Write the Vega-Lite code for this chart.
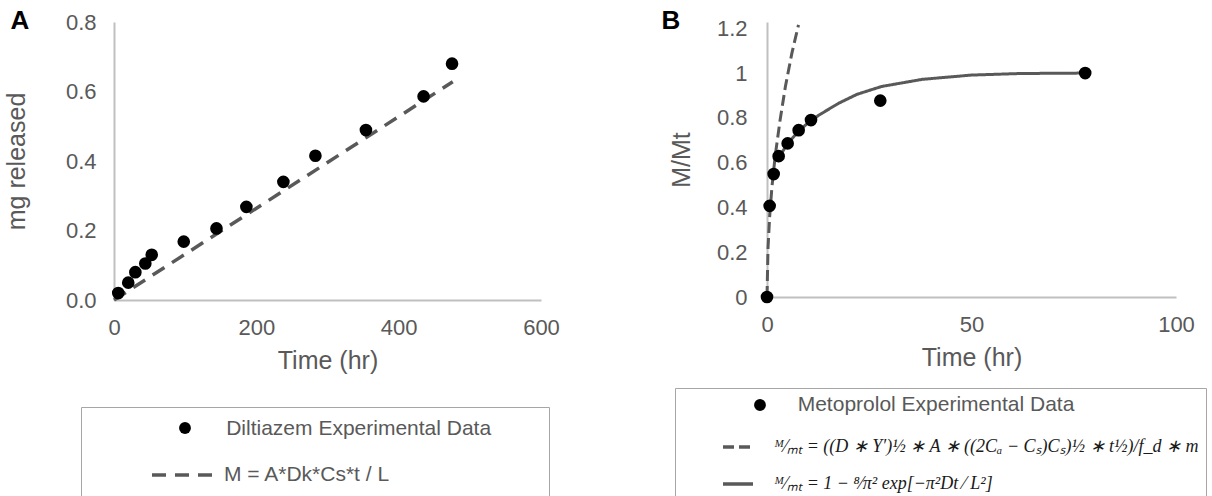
{
  "$schema": "https://vega.github.io/schema/vega-lite/v6.json",
  "padding": {"left": 4, "top": 8, "right": 0, "bottom": 0},
  "spacing": 101,
  "resolve": {"scale": {"strokeDash": "independent", "shape": "independent"}, "legend": {"strokeDash": "independent", "shape": "independent"}},
  "config": {
    "font": "Liberation Sans",
    "view": {"stroke": null},
    "axis": {
      "labelFont": "Liberation Sans", "labelFontSize": 22, "labelColor": "#595959",
      "titleFont": "Liberation Sans", "titleFontSize": 25, "titleFontWeight": "normal", "titleColor": "#595959",
      "domainColor": "#c0c0c0", "domainWidth": 2, "ticks": false, "grid": false, "labelFlush": false, "labelOverlap": false
    },
    "title": {"fontSize": 26, "fontWeight": "bold", "color": "#000000", "anchor": "start", "frame": "bounds", "font": "Liberation Sans"}
  },
  "hconcat": [
    {
      "title": {"text": "A", "offset": -23, "dx": 6},
      "width": 427,
      "height": 278,
      "data": {"values": [
        {"series": "Diltiazem Experimental Data", "t": 6, "m": 0.02},
        {"series": "Diltiazem Experimental Data", "t": 20, "m": 0.05},
        {"series": "Diltiazem Experimental Data", "t": 30, "m": 0.08},
        {"series": "Diltiazem Experimental Data", "t": 44, "m": 0.105},
        {"series": "Diltiazem Experimental Data", "t": 53, "m": 0.13},
        {"series": "Diltiazem Experimental Data", "t": 98, "m": 0.168},
        {"series": "Diltiazem Experimental Data", "t": 144, "m": 0.206},
        {"series": "Diltiazem Experimental Data", "t": 186, "m": 0.268},
        {"series": "Diltiazem Experimental Data", "t": 238, "m": 0.34},
        {"series": "Diltiazem Experimental Data", "t": 283, "m": 0.415},
        {"series": "Diltiazem Experimental Data", "t": 354, "m": 0.489},
        {"series": "Diltiazem Experimental Data", "t": 435, "m": 0.586},
        {"series": "Diltiazem Experimental Data", "t": 475, "m": 0.68},
        {"series": "M = A*Dk*Cs*t / L", "t": 0, "m": 0},
        {"series": "M = A*Dk*Cs*t / L", "t": 476, "m": 0.628}
      ]},
      "layer": [
        {
          "transform": [{"filter": "datum.series === 'M = A*Dk*Cs*t / L'"}],
          "mark": {"type": "line", "color": "#595959", "strokeWidth": 3.5},
          "encoding": {
            "x": {"field": "t", "type": "quantitative", "scale": {"domain": [0, 600], "nice": false},
              "axis": {"title": "Time (hr)", "values": [0, 200, 400, 600], "labelPadding": 17, "titlePadding": 10, "labelOverlap": false}},
            "y": {"field": "m", "type": "quantitative", "scale": {"domain": [0, 0.8], "nice": false},
              "axis": {"title": "mg released", "values": [0, 0.1, 0.2, 0.3, 0.4, 0.5, 0.6, 0.7, 0.8], "format": ".1f", "labelPadding": 18, "titlePadding": 36, "labelOverlap": false}},
            "strokeDash": {"field": "series", "type": "nominal", "scale": {"domain": ["M = A*Dk*Cs*t / L"], "range": [[14, 9]]},
              "legend": {
                "orient": "none", "legendX": -33, "legendY": 385,
                "title": "\u200b\u00a0\u00a0\u00a0\u00a0\u00a0\u00a0\u00a0\u00a0\u00a0\u00a0\u00a0\u00a0\u00a0\u00a0\u00a0\u00a0\u00a0\u00a0\u00a0\u00a0\u00a0\u00a0\u00a0Diltiazem Experimental Data\u00a0\u00a0\u00a0\u00a0\u00a0\u00a0\u00a0\u00a0\u200b",
                "titleFontSize": 21, "titleFontWeight": "normal", "titleColor": "#595959", "titleLimit": 2000, "titlePadding": 26,
                "padding": 11, "strokeColor": "#a6a6a6",
                "labelFontSize": 21, "labelColor": "#595959", "labelLimit": 2000,
                "symbolType": "stroke", "symbolSize": 4356, "symbolStrokeWidth": 3.5, "symbolStrokeColor": "#595959",
                "symbolOffset": 58, "labelOffset": 4, "clipHeight": 20
              }}
          }
        },
        {
          "transform": [{"filter": "datum.series === 'Diltiazem Experimental Data'"}],
          "mark": {"type": "point", "filled": true, "color": "#000000", "opacity": 1, "size": 160},
          "encoding": {
            "x": {"field": "t", "type": "quantitative"},
            "y": {"field": "m", "type": "quantitative"},
            "shape": {"field": "series", "type": "nominal", "scale": {"domain": ["Diltiazem Experimental Data"], "range": ["circle"]},
              "legend": {
                "orient": "none", "legendX": 65, "legendY": 400, "title": null, "labelExpr": "''",
                "padding": 0, "symbolSize": 140, "symbolFillColor": "#000000", "symbolStrokeWidth": 0,
                "labelFontSize": 1, "labelOffset": 0
              }}
          }
        }
      ]
    },
    {
      "title": {"text": "B", "offset": -17, "dx": -8},
      "width": 409,
      "height": 275,
      "data": {"values": [
        {"series": "Metoprolol Experimental Data", "t": 0, "f": 0},
        {"series": "Metoprolol Experimental Data", "t": 0.65, "f": 0.407},
        {"series": "Metoprolol Experimental Data", "t": 1.63, "f": 0.549},
        {"series": "Metoprolol Experimental Data", "t": 2.85, "f": 0.629},
        {"series": "Metoprolol Experimental Data", "t": 5.05, "f": 0.686},
        {"series": "Metoprolol Experimental Data", "t": 7.74, "f": 0.745},
        {"series": "Metoprolol Experimental Data", "t": 10.76, "f": 0.79},
        {"series": "Metoprolol Experimental Data", "t": 27.7, "f": 0.877},
        {"series": "Metoprolol Experimental Data", "t": 77.8, "f": 1.0},
        {"series": "ᴹ⁄ₘₜ = ((D ∗ Y′)½ ∗ A ∗ ((2Cₐ − Cₛ)Cₛ)½ ∗ t½)/f_d ∗ m", "t": 0, "f": 0},
        {"series": "ᴹ⁄ₘₜ = ((D ∗ Y′)½ ∗ A ∗ ((2Cₐ − Cₛ)Cₛ)½ ∗ t½)/f_d ∗ m", "t": 0.25, "f": 0.22},
        {"series": "ᴹ⁄ₘₜ = ((D ∗ Y′)½ ∗ A ∗ ((2Cₐ − Cₛ)Cₛ)½ ∗ t½)/f_d ∗ m", "t": 0.65, "f": 0.36},
        {"series": "ᴹ⁄ₘₜ = ((D ∗ Y′)½ ∗ A ∗ ((2Cₐ − Cₛ)Cₛ)½ ∗ t½)/f_d ∗ m", "t": 1.2, "f": 0.49},
        {"series": "ᴹ⁄ₘₜ = ((D ∗ Y′)½ ∗ A ∗ ((2Cₐ − Cₛ)Cₛ)½ ∗ t½)/f_d ∗ m", "t": 2.0, "f": 0.63},
        {"series": "ᴹ⁄ₘₜ = ((D ∗ Y′)½ ∗ A ∗ ((2Cₐ − Cₛ)Cₛ)½ ∗ t½)/f_d ∗ m", "t": 3.2, "f": 0.79},
        {"series": "ᴹ⁄ₘₜ = ((D ∗ Y′)½ ∗ A ∗ ((2Cₐ − Cₛ)Cₛ)½ ∗ t½)/f_d ∗ m", "t": 4.5, "f": 0.94},
        {"series": "ᴹ⁄ₘₜ = ((D ∗ Y′)½ ∗ A ∗ ((2Cₐ − Cₛ)Cₛ)½ ∗ t½)/f_d ∗ m", "t": 6.1, "f": 1.09},
        {"series": "ᴹ⁄ₘₜ = ((D ∗ Y′)½ ∗ A ∗ ((2Cₐ − Cₛ)Cₛ)½ ∗ t½)/f_d ∗ m", "t": 7.7, "f": 1.215},
        {"series": "ᴹ⁄ₘₜ = 1 − ⁸⁄π² exp[−π²Dt ⁄ L²]", "t": 2.5, "f": 0.61},
        {"series": "ᴹ⁄ₘₜ = 1 − ⁸⁄π² exp[−π²Dt ⁄ L²]", "t": 5, "f": 0.685},
        {"series": "ᴹ⁄ₘₜ = 1 − ⁸⁄π² exp[−π²Dt ⁄ L²]", "t": 7.7, "f": 0.74},
        {"series": "ᴹ⁄ₘₜ = 1 − ⁸⁄π² exp[−π²Dt ⁄ L²]", "t": 10.8, "f": 0.79},
        {"series": "ᴹ⁄ₘₜ = 1 − ⁸⁄π² exp[−π²Dt ⁄ L²]", "t": 13.4, "f": 0.82},
        {"series": "ᴹ⁄ₘₜ = 1 − ⁸⁄π² exp[−π²Dt ⁄ L²]", "t": 17.5, "f": 0.865},
        {"series": "ᴹ⁄ₘₜ = 1 − ⁸⁄π² exp[−π²Dt ⁄ L²]", "t": 22, "f": 0.905},
        {"series": "ᴹ⁄ₘₜ = 1 − ⁸⁄π² exp[−π²Dt ⁄ L²]", "t": 28, "f": 0.94},
        {"series": "ᴹ⁄ₘₜ = 1 − ⁸⁄π² exp[−π²Dt ⁄ L²]", "t": 38, "f": 0.972},
        {"series": "ᴹ⁄ₘₜ = 1 − ⁸⁄π² exp[−π²Dt ⁄ L²]", "t": 50, "f": 0.991},
        {"series": "ᴹ⁄ₘₜ = 1 − ⁸⁄π² exp[−π²Dt ⁄ L²]", "t": 62, "f": 0.998},
        {"series": "ᴹ⁄ₘₜ = 1 − ⁸⁄π² exp[−π²Dt ⁄ L²]", "t": 78, "f": 1.0}
      ]},
      "layer": [
        {
          "transform": [{"filter": "datum.series !== 'Metoprolol Experimental Data'"}],
          "mark": {"type": "line", "color": "#595959", "strokeWidth": 3},
          "encoding": {
            "x": {"field": "t", "type": "quantitative", "scale": {"domain": [0, 100], "nice": false},
              "axis": {"title": "Time (hr)", "values": [0, 50, 100], "labelPadding": 17, "titlePadding": 10, "labelOverlap": false}},
            "y": {"field": "f", "type": "quantitative", "scale": {"domain": [0, 1.228], "nice": false},
              "axis": {"title": "M/Mt", "values": [0, 0.2, 0.4, 0.6, 0.8, 1, 1.2], "format": "~g", "labelPadding": 20, "titlePadding": 22, "labelOverlap": false}},
            "strokeDash": {"field": "series", "type": "nominal",
              "scale": {"domain": ["ᴹ⁄ₘₜ = ((D ∗ Y′)½ ∗ A ∗ ((2Cₐ − Cₛ)Cₛ)½ ∗ t½)/f_d ∗ m", "ᴹ⁄ₘₜ = 1 − ⁸⁄π² exp[−π²Dt ⁄ L²]"], "range": [[11, 5], [1, 0]]},
              "legend": {
                "orient": "none", "legendX": -92, "legendY": 366,
                "title": "\u200b\u00a0\u00a0\u00a0\u00a0\u00a0\u00a0\u00a0\u00a0\u00a0\u00a0\u00a0\u00a0\u00a0\u00a0\u00a0\u00a0\u00a0\u00a0\u00a0\u00a0Metoprolol Experimental Data",
                "titleFontSize": 21, "titleFontWeight": "normal", "titleColor": "#595959", "titleLimit": 2000, "titlePadding": 22,
                "padding": 6, "strokeColor": "#a6a6a6",
                "labelFont": "Liberation Serif", "labelFontStyle": "italic", "labelFontSize": 18, "labelColor": "#1a1a1a", "labelLimit": 2000,
                "symbolType": "stroke", "symbolSize": 900, "symbolStrokeWidth": 3.5, "symbolStrokeColor": "#595959",
                "symbolOffset": 40, "labelOffset": 19, "clipHeight": 20, "rowPadding": 17
              }}
          }
        },
        {
          "transform": [{"filter": "datum.series === 'Metoprolol Experimental Data'"}],
          "mark": {"type": "point", "filled": true, "color": "#000000", "opacity": 1, "size": 160},
          "encoding": {
            "x": {"field": "t", "type": "quantitative"},
            "y": {"field": "f", "type": "quantitative"},
            "shape": {"field": "series", "type": "nominal", "scale": {"domain": ["Metoprolol Experimental Data"], "range": ["circle"]},
              "legend": {
                "orient": "none", "legendX": -13, "legendY": 377, "title": null, "labelExpr": "''",
                "padding": 0, "symbolSize": 140, "symbolFillColor": "#000000", "symbolStrokeWidth": 0,
                "labelFontSize": 1, "labelOffset": 0
              }}
          }
        }
      ]
    }
  ]
}
